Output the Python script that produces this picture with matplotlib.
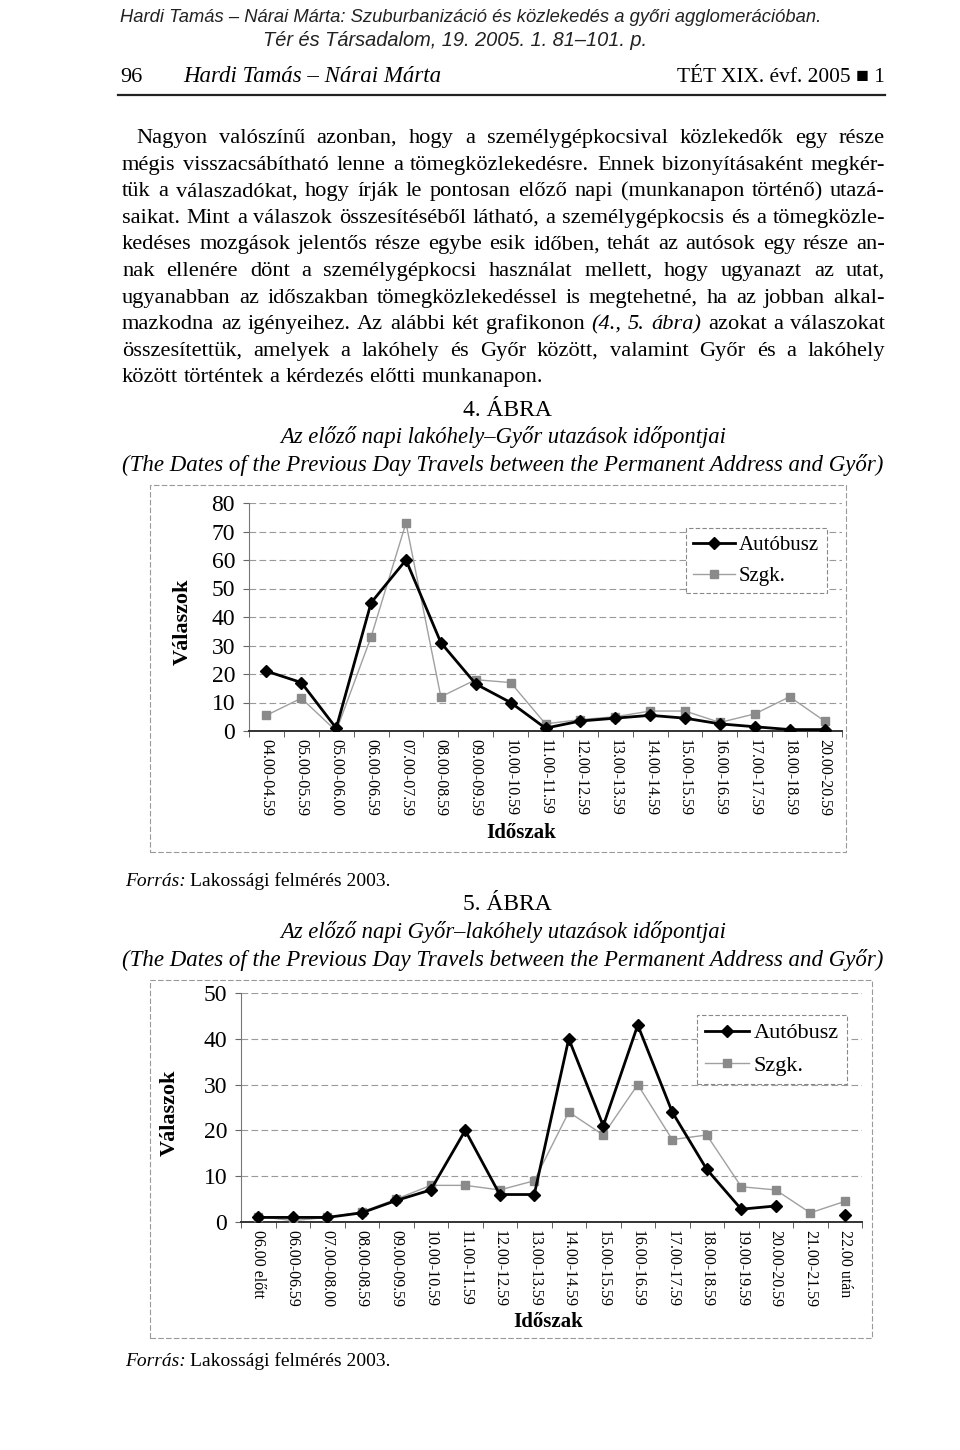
import numpy as np
import matplotlib
matplotlib.use("Agg")
import matplotlib.pyplot as plt
from matplotlib.patches import Rectangle
from matplotlib.lines import Line2D

W, H = 960, 1450
SERIF = ["Liberation Serif", "DejaVu Serif"]
SANS = ["Liberation Sans", "DejaVu Sans"]

# --- data -----------------------------------------------------------------
cats4 = ["04.00-04.59", "05.00-05.59", "05.00-06.00", "06.00-06.59", "07.00-07.59",
         "08.00-08.59", "09.00-09.59", "10.00-10.59", "11.00-11.59", "12.00-12.59",
         "13.00-13.59", "14.00-14.59", "15.00-15.59", "16.00-16.59", "17.00-17.59",
         "18.00-18.59", "20.00-20.59"]
bus4 = [21, 17, 1, 45, 60, 31, 16.5, 10, 1, 3.5, 4.5, 5.5, 4.5, 2.5, 1.5, 0.5, 0.5]
car4 = [5.5, 11.5, 0, 33, 73, 12, 18, 17, 2.5, 4, 5, 7, 7, 3, 6, 12, 3.5]

cats5 = ["06.00 előtt", "06.00-06.59", "07.00-08.00", "08.00-08.59", "09.00-09.59",
         "10.00-10.59", "11.00-11.59", "12.00-12.59", "13.00-13.59", "14.00-14.59",
         "15.00-15.59", "16.00-16.59", "17.00-17.59", "18.00-18.59", "19.00-19.59",
         "20.00-20.59", "21.00-21.59", "22.00 után"]
bus5 = [1, 1, 1, 2, 4.7, 7, 20, 6, 6, 40, 21, 43, 24, 11.5, 2.8, 3.5, np.nan, 1.6]
car5 = [1.2, 0.3, 1, 2.2, 5, 8, 8, 7, 9, 24, 19, 30, 18, 19, 7.7, 7, 2, 4.5]

series_names = ["Autóbusz", "Szgk."]

body = [
    "Nagyon valószínű azonban, hogy a személygépkocsival közlekedők egy része",
    "mégis visszacsábítható lenne a tömegközlekedésre. Ennek bizonyításaként megkér-",
    "tük a válaszadókat, hogy írják le pontosan előző napi (munkanapon történő) utazá-",
    "saikat. Mint a válaszok összesítéséből látható, a személygépkocsis és a tömegközle-",
    "kedéses mozgások jelentős része egybe esik időben, tehát az autósok egy része an-",
    "nak ellenére dönt a személygépkocsi használat mellett, hogy ugyanazt az utat,",
    "ugyanabban az időszakban tömegközlekedéssel is megtehetné, ha az jobban alkal-",
    "mazkodna az igényeihez. Az alábbi két grafikonon (4., 5. ábra) azokat a válaszokat",
    "összesítettük, amelyek a lakóhely és Győr között, valamint Győr és a lakóhely",
    "között történtek a kérdezés előtti munkanapon.",
]
italic_words = {"(4.,", "5.", "ábra)"}

fig = plt.figure(figsize=(W / 100, H / 100), dpi=100)
R = fig.canvas.get_renderer()


def px(x):
    return x / W


def py(y):
    return 1 - y / H


def fit(s, x, y, width, ha="left", va="center", **kw):
    t = fig.text(px(x), py(y), s, fontsize=10, ha=ha, va=va, **kw)
    w = t.get_window_extent(R).width
    t.set_fontsize(10 * width / w)
    return t


def width_of(s, size, **kw):
    t = fig.text(0, 0, s, fontsize=size, **kw)
    w = t.get_window_extent(R).width
    t.remove()
    return w


# --- page header ----------------------------------------------------------
fit("Hardi Tamás – Nárai Márta: Szuburbanizáció és közlekedés a győri agglomerációban.",
    471, 18, 700, ha="center", family=SANS, style="italic", color="#222")
fit("Tér és Társadalom, 19. 2005. 1. 81–101. p.",
    455, 41, 385, ha="center", family=SANS, style="italic", color="#222")
fig.text(px(120), py(82), "96", fontsize=16, family=SERIF, va="baseline")
fit("Hardi Tamás – Nárai Márta", 183, 82, 258, va="baseline", family=SERIF, style="italic")
fit("TÉT XIX. évf. 2005 ■ 1", 885, 82, 207, ha="right", va="baseline", family=SERIF)
fig.add_artist(Line2D([px(118), px(885)], [py(95), py(95)], color="#222", lw=1.6))

# --- body text, justified -------------------------------------------------
x_left, x_right = 122, 885
sp10 = width_of("a b", 10, family=SERIF) - width_of("ab", 10, family=SERIF)
nat = max(sum(width_of(w, 10, family=SERIF) for w in ln.split()) + sp10 * (len(ln.split()) - 1)
          for ln in body[:-1])
body_size = 10 * (x_right - x_left) / nat * 0.985
space = sp10 * body_size / 10

for i, line in enumerate(body):
    y = 143 + 26.6 * i
    x0 = 136 if i == 0 else x_left
    words = line.split()
    texts = [fig.text(0, py(y), w, fontsize=body_size, family=SERIF, va="baseline",
                      style="italic" if (i == 7 and w in italic_words) else "normal")
             for w in words]
    widths = [t.get_window_extent(R).width for t in texts]
    if i == len(body) - 1:
        gap = space
    else:
        gap = (x_right - x0 - sum(widths)) / (len(words) - 1)
    x = x0
    for t, w in zip(texts, widths):
        t.set_x(px(x))
        x += w + gap


# --- charts ---------------------------------------------------------------
def chart(num, title_hu, ty, frame, axbox, cats, bus, car, ymax, leg_xy, leg_size,
          ylab_x, xlab_xy, src_y):
    fig.text(px(507), py(ty), f"{num}. ÁBRA", fontsize=17, family=SERIF, ha="center", va="center")
    fit(title_hu, 503, ty + 27, 447, ha="center", family=SERIF, style="italic")
    fit("(The Dates of the Previous Day Travels between the Permanent Address and Győr)",
        503, ty + 55, 763, ha="center", family=SERIF, style="italic")

    fx0, fy0, fx1, fy1 = frame
    fig.add_artist(Rectangle((px(fx0), py(fy1)), px(fx1 - fx0), (fy1 - fy0) / H,
                             fill=False, ec="#9a9a9a", lw=0.8, ls=(0, (5, 2))))

    l, r, t, b = axbox
    ax = fig.add_axes([px(l), py(b), px(r - l), (b - t) / H])
    x = np.arange(len(cats))
    ax.plot(x, car, color="#a0a0a0", lw=1.0, marker="s", ms=6,
            mfc="#8a8a8a", mec="#8a8a8a", label=series_names[1], zorder=3)
    ax.plot(x, bus, color="black", lw=2.0, marker="D", ms=6.5,
            mfc="black", mec="black", label=series_names[0], zorder=4)

    ax.set_xlim(-0.5, len(cats) - 0.5)
    ax.set_ylim(0, ymax)
    ax.set_yticks(np.arange(0, ymax + 1, 10))
    ax.yaxis.grid(True, color="#9a9a9a", lw=0.8, ls=(0, (6, 3)))
    ax.set_axisbelow(True)
    ax.set_xticks(x)
    ax.set_xticklabels(cats, rotation=-90, fontsize=11.5, family=SERIF, va="top")
    ax.set_xticks(np.arange(-0.5, len(cats)), minor=True)
    ax.tick_params(axis="x", which="major", length=0, pad=6)
    ax.tick_params(axis="x", which="minor", length=4, color="#444", direction="out")
    ax.tick_params(axis="y", length=4, color="#666", labelsize=17, pad=6)
    for lab in ax.get_yticklabels():
        lab.set_family(SERIF)
    for s in ("top", "right"):
        ax.spines[s].set_visible(False)
    ax.spines["left"].set_color("#777")
    ax.spines["left"].set_lw(0.8)
    ax.spines["bottom"].set_color("#333")
    ax.spines["bottom"].set_lw(1.4)

    h, lb = ax.get_legend_handles_labels()
    leg = ax.legend(h[::-1], lb[::-1], loc="upper left",
                    bbox_to_anchor=(px(leg_xy[0]), py(leg_xy[1])), bbox_transform=fig.transFigure,
                    prop=dict(family=SERIF, size=leg_size), handlelength=2.0, handletextpad=0.2,
                    borderpad=0.35, borderaxespad=0, labelspacing=0.55, fancybox=False,
                    framealpha=1, edgecolor="#888")
    leg.get_frame().set_linestyle((0, (4, 2)))
    leg.get_frame().set_linewidth(0.8)

    fig.text(px(ylab_x), py((t + b) / 2 + 5), "Válaszok", rotation=90, fontsize=16,
             weight="bold", family=SERIF, ha="center", va="center")
    fig.text(px(xlab_xy[0]), py(xlab_xy[1]), "Időszak", fontsize=15, weight="bold",
             family=SERIF, ha="center", va="center")

    t1 = fig.text(px(125), py(src_y), "Forrás:", fontsize=14, style="italic",
                  family=SERIF, va="baseline")
    w = t1.get_window_extent(R).width
    fig.text(px(125 + w + 4), py(src_y), "Lakossági felmérés 2003.", fontsize=14,
             family=SERIF, va="baseline")
    return ax


chart(4, "Az előző napi lakóhely–Győr utazások időpontjai", 410,
      (150, 485, 846, 852), (249, 842, 503, 731), cats4, bus4, car4, 80,
      (686, 528), 15, 183, (521, 833), 886)
chart(5, "Az előző napi Győr–lakóhely utazások időpontjai", 905,
      (150, 980, 872, 1338), (241, 862, 993, 1222), cats5, bus5, car5, 50,
      (697, 1015), 16, 170, (548, 1322), 1366)

fig.savefig("out.png", dpi=100, facecolor="white")
